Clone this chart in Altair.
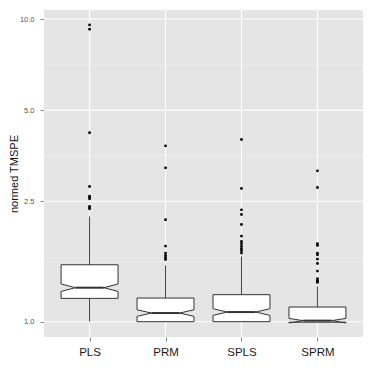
import altair as alt
import pandas as pd
import numpy as np

methods = ["PLS", "PRM", "SPLS", "SPRM"]
q1 = [1.194, 1.0, 1.0, 0.996]
median = [1.295, 1.068, 1.076, 1.008]
q3 = [1.542, 1.197, 1.228, 1.118]
notch_lo = [1.259, 1.041, 1.049, 0.990]
notch_hi = [1.332, 1.095, 1.104, 1.025]
whisker_lo = [1.0, 1.0, 1.0, 0.996]
whisker_hi = [2.226, 1.534, 1.642, 1.308]
outliers = {
    "PLS": [9.56, 9.25, 4.21, 2.796, 2.599, 2.57, 2.547, 2.402, 2.378, 2.36],
    "PRM": [3.81, 3.224, 2.171, 1.777, 1.685, 1.655, 1.630, 1.605],
    "SPLS": [3.998, 2.754, 2.342, 2.26, 2.095, 1.918, 1.841, 1.809, 1.772,
             1.741, 1.715, 1.685],
    "SPRM": [3.15, 2.775, 1.809, 1.786, 1.685, 1.664, 1.61, 1.557, 1.47,
             1.387, 1.369, 1.36, 1.348],
}
y_breaks = [1.0, 2.5, 5.0, 10.0]

box_width = 0.75
notch_width = 0.5

# notched box polygons
rows = []
for i, m in enumerate(methods):
    p = i + 1
    L, R = p - box_width / 2, p + box_width / 2
    Li = p - box_width * notch_width / 2
    Ri = p + box_width * notch_width / 2
    verts = [(L, q3[i]), (L, notch_hi[i]), (Li, median[i]), (L, notch_lo[i]),
             (L, q1[i]), (R, q1[i]), (R, notch_lo[i]), (Ri, median[i]),
             (R, notch_hi[i]), (R, q3[i]), (L, q3[i])]
    for k, (vx, vy) in enumerate(verts):
        rows.append({"method": m, "k": k, "x": vx, "y": vy})
box_df = pd.DataFrame(rows)

stats_df = pd.DataFrame({
    "method": methods,
    "pos": list(range(1, len(methods) + 1)),
    "q1": q1, "median": median, "q3": q3,
    "wlo": whisker_lo, "whi": whisker_hi,
})
stats_df["mL"] = stats_df["pos"] - box_width * notch_width / 2
stats_df["mR"] = stats_df["pos"] + box_width * notch_width / 2

out_df = pd.DataFrame([
    {"method": m, "pos": methods.index(m) + 1, "y": v}
    for m in methods for v in outliers[m]
])

major_df = pd.DataFrame({"y": y_breaks})
minor_df = pd.DataFrame({"y": [float(np.sqrt(a * b)) for a, b in zip(y_breaks[:-1], y_breaks[1:])]})
vgrid_df = pd.DataFrame({"pos": list(range(1, len(methods) + 1))})

W, H = 319, 327

xscale = alt.Scale(domain=[0.4, len(methods) + 0.6], nice=False, zero=False)
yscale = alt.Scale(type="log", domain=[0.890, 10.71], nice=False)

label_arr = "[" + ",".join("'%s'" % m for m in methods) + "]"
xaxis = alt.Axis(values=list(range(1, len(methods) + 1)), labelExpr=label_arr + "[datum.value-1]",
                 title=None, grid=False, domain=False, tickSize=4, tickColor="#888888",
                 labelFontSize=11.5, labelColor="#1a1a1a", labelPadding=5,
                 labelFont="Liberation Sans")
yaxis = alt.Axis(values=y_breaks, labelExpr="format(datum.value, '.1f')",
                 title="normed TMSPE", grid=False, domain=False, tickSize=4,
                 tickColor="#888888", labelFontSize=7.5, labelColor="#555555",
                 labelPadding=6, labelFont="Liberation Sans",
                 titleFont="Liberation Sans", titleFontSize=11, titleFontWeight="normal",
                 titleColor="#111111", titleX=-26.5, titleY=H / 2, titleAngle=270,
                 titleAlign="center", titleBaseline="alphabetic")

bg = alt.Chart(vgrid_df).mark_rect(color="#E5E5E5").encode(
    x=alt.value(0), x2=alt.value(W), y=alt.value(0), y2=alt.value(H))
minor = alt.Chart(minor_df).mark_rule(color="#F2F2F2", strokeWidth=0.6).encode(
    y=alt.Y("y:Q", scale=yscale, axis=yaxis),
    x=alt.value(0), x2=alt.value(W))
major = alt.Chart(major_df).mark_rule(color="white", strokeWidth=1.1).encode(
    y=alt.Y("y:Q", scale=yscale), x=alt.value(0), x2=alt.value(W))
vgrid = alt.Chart(vgrid_df).mark_rule(color="white", strokeWidth=1.1).encode(
    x=alt.X("pos:Q", scale=xscale, axis=xaxis), y=alt.value(0), y2=alt.value(H))

wlow = alt.Chart(stats_df).mark_rule(color="#444444", strokeWidth=1).encode(
    x=alt.X("pos:Q", scale=xscale), y=alt.Y("wlo:Q", scale=yscale), y2="q1:Q")
whigh = alt.Chart(stats_df).mark_rule(color="#444444", strokeWidth=1).encode(
    x=alt.X("pos:Q", scale=xscale), y=alt.Y("q3:Q", scale=yscale), y2="whi:Q")

boxes = alt.Chart(box_df).mark_line(fill="white", stroke="#333333", strokeWidth=1,
                                    strokeJoin="miter").encode(
    x=alt.X("x:Q", scale=xscale), y=alt.Y("y:Q", scale=yscale),
    order="k:Q", detail="method:N")

med = alt.Chart(stats_df).mark_rule(color="#333333", strokeWidth=2).encode(
    x=alt.X("mL:Q", scale=xscale), x2="mR:Q", y=alt.Y("median:Q", scale=yscale))

pts = alt.Chart(out_df).mark_circle(color="black", size=8, opacity=1).encode(
    x=alt.X("pos:Q", scale=xscale), y=alt.Y("y:Q", scale=yscale))

chart = alt.layer(bg, minor, major, vgrid, wlow, whigh, boxes, med, pts).properties(
    width=W, height=H,
    background="white",
    autosize=alt.AutoSizeParams(type="none"),
    padding={"left": 36, "top": 2, "right": 3, "bottom": 28},
).configure_view(fill="#E5E5E5", stroke=None)

chart.save("out.html", embed_options={"renderer": "svg", "actions": False})
